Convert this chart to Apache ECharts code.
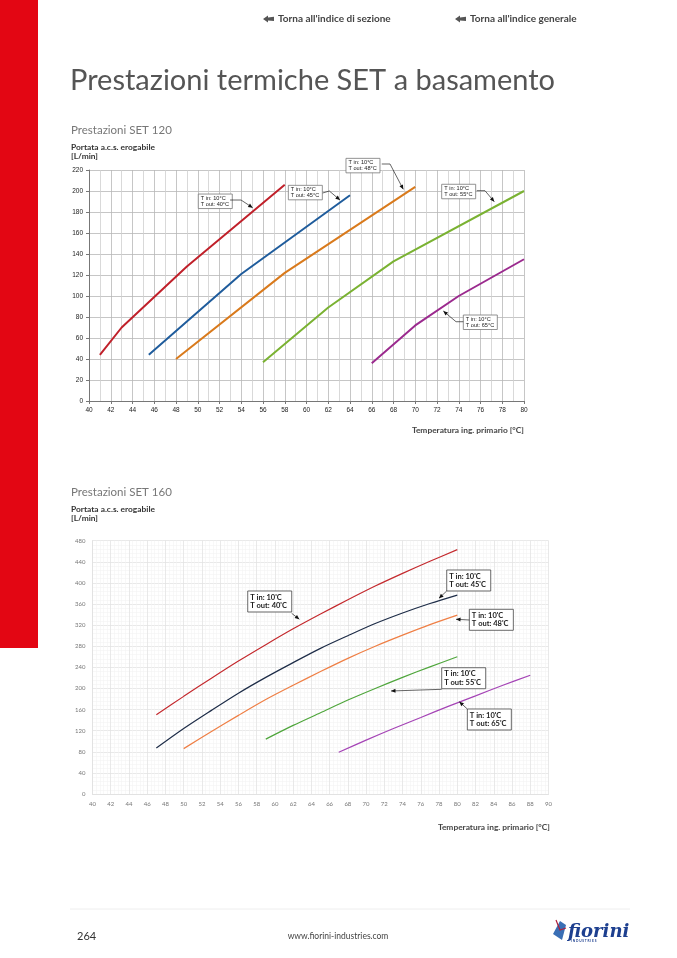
<!DOCTYPE html>
<html><head><meta charset="utf-8">
<script src="https://cdn.jsdelivr.net/npm/echarts@6/dist/echarts.min.js"></script>
<style>html,body{margin:0;padding:0;background:#fff}#c{width:677px;height:958px}</style>
</head><body><div id="c"></div>
<script>
// ---------- DATA ----------
// SET 120 : x = Temperatura ing. primario [°C], y = Portata [L/min]
const s120_40 = [[41,44],[43,70],[46,99],[49,128],[58,206]];
const s120_45 = [[45.5,44],[54,121],[64,196]];
const s120_48 = [[48,40],[58,122],[70,204]];
const s120_55 = [[56,37],[62,89],[68,133],[80,200]];
const s120_65 = [[66,36],[70,72],[74,100],[80,135]];
// SET 160
const s160_40 = [[47,150],[50,185],[53,219],[56,252],[59,283],[62,313],[65,341],[68,368],[71,394],[74,418],[77,441],[80,463]];
const s160_45 = [[47,87],[50,124],[53,158],[56,191],[59,221],[62,249],[65,276],[68,300],[71,323],[74,343],[77,361],[80,377]];
const s160_48 = [[50,86],[53,118],[56,149],[59,179],[62,206],[65,232],[68,257],[71,280],[74,301],[77,321],[80,339]];
const s160_55 = [[59,104],[62,130],[65,154],[68,178],[71,200],[74,221],[77,241],[80,260]];
const s160_65 = [[67,79],[70,102],[73,124],[76,145],[79,166],[82,186],[85,206],[88,225]];
const labelsTin = 'T in: 10°C';
const labelsOut120 = ['T out: 40°C','T out: 45°C','T out: 48°C','T out: 55°C','T out: 65°C'];
const labelsOut160 = ["T out: 40'C","T out: 45'C","T out: 48'C","T out: 55'C","T out: 65'C"];
// annotation anchors (data coords): box top-left, arrow path
const ann120 = [
  {box:[50.05,197.1], path:[[52.97,191.4],[53.98,191.4],[55.05,184.1]]},
  {box:[58.33,205.4], path:[[61.49,198.1],[62.1,200],[63.08,191.4]]},
  {box:[63.63,231.1], path:[[66.92,225.7],[67.68,225.7],[68.9,201.6]]},
  {box:[72.43,206.4], path:[[75.65,200.3],[76.41,200.3],[77.27,189.8]]},
  {box:[74.42,81.9],  path:[[74.42,75.5],[73.75,75.5],[72.58,85.7]]}
];
const ann160 = [
  {box:[57.02,384.7], path:[[61.84,342.4],[62.68,331.1]]},
  {box:[78.84,424.5], path:[[78.84,384.7],[77.99,370.9]]},
  {box:[81.32,350],   path:[[81.32,329.7],[79.86,331.1]]},
  {box:[78.29,239.3], path:[[78.29,198.4],[72.73,195.2]]},
  {box:[81.1,161.1],  path:[[81.1,161.1],[80.22,174.9]]}
];
const colors120 = ['#c0202a','#1f5c9c','#d97a1c','#7ab232','#9b2a8e'];
const colors160 = ['#c42a2e','#1e2d48','#ef7f45','#4fa63c','#a544b6'];

const chart = echarts.init(document.getElementById('c'), null, {renderer:'canvas'});
const F = 'Lato, "Open Sans", sans-serif';
const A = '"Liberation Sans", Arial, sans-serif';

function line(data, color, w, idx, smooth){
  return {type:'line', data, xAxisIndex:idx, yAxisIndex:idx, showSymbol:false, smooth:smooth,
    lineStyle:{color, width:w}, itemStyle:{color}, z:5, animation:false, silent:true};
}

chart.setOption({
  animation:false,
  grid:[
    {left:89, top:170, width:435, height:231},
    {left:92.5, top:540.7, width:456, height:253.3}
  ],
  xAxis:[
    {type:'value', gridIndex:0, min:40, max:80, interval:2,
     axisLine:{show:true, onZero:false, lineStyle:{color:'#777', width:1}},
     axisTick:{show:true, length:3, lineStyle:{color:'#777'}},
     axisLabel:{fontFamily:A, fontSize:6.5, color:'#222', margin:6},
     splitLine:{show:true, lineStyle:{color:'#b8b8b8', width:0.8}},
     minorTick:{show:false, splitNumber:2},
     minorSplitLine:{show:true, lineStyle:{color:'#cfcfcf', width:0.8}}},
    {type:'value', gridIndex:1, min:40, max:90, interval:2,
     axisLine:{show:true, onZero:false, lineStyle:{color:'#e2e2e2', width:1}},
     axisTick:{show:false},
     axisLabel:{fontFamily:F, fontSize:6, color:'#777', margin:7},
     splitLine:{show:true, lineStyle:{color:'#e3e3e3', width:0.8}},
     minorTick:{show:false, splitNumber:5},
     minorSplitLine:{show:true, lineStyle:{color:'#f3f3f3', width:0.6}}}
  ],
  yAxis:[
    {type:'value', gridIndex:0, min:0, max:220, interval:20,
     axisLine:{show:true, lineStyle:{color:'#777', width:1}},
     axisTick:{show:true, length:3, lineStyle:{color:'#777'}},
     axisLabel:{fontFamily:A, fontSize:6.5, color:'#222', margin:6},
     splitLine:{show:true, lineStyle:{color:'#b8b8b8', width:0.8}}},
    {type:'value', gridIndex:1, min:0, max:480, interval:40,
     axisLine:{show:true, lineStyle:{color:'#e2e2e2', width:1}},
     axisTick:{show:false},
     axisLabel:{fontFamily:F, fontSize:6, color:'#777', margin:7},
     splitLine:{show:true, lineStyle:{color:'#e3e3e3', width:0.8}},
     minorTick:{show:false, splitNumber:5},
     minorSplitLine:{show:true, lineStyle:{color:'#f3f3f3', width:0.6}}}
  ],
  series:[
    line(s120_40, colors120[0], 2, 0, false),
    line(s120_45, colors120[1], 2, 0, false),
    line(s120_48, colors120[2], 2, 0, false),
    line(s120_55, colors120[3], 2, 0, false),
    line(s120_65, colors120[4], 2, 0, false),
    line(s160_40, colors160[0], 1.2, 1, 0.3),
    line(s160_45, colors160[1], 1.2, 1, 0.3),
    line(s160_48, colors160[2], 1.2, 1, 0.3),
    line(s160_55, colors160[3], 1.2, 1, 0.3),
    line(s160_65, colors160[4], 1.2, 1, 0.3)
  ]
});

function txt(text, x, y, size, color, weight, align, family){
  return {type:'text', z:20, style:{text, x, y, fill:color, fontSize:size, fontWeight:weight||'normal',
    fontFamily:family||F, align:align||'left', verticalAlign:'middle'}};
}
const g = [];
// red side bar
g.push({type:'rect', shape:{x:0,y:0,width:38,height:648}, style:{fill:'#e30613'}, z:1});
// top links with arrow icons
function arrowIcon(x,y){
  return {type:'polygon', z:20, shape:{points:[[x,y],[x+5,y-3.5],[x+5,y-1.5],[x+11,y-2.2],[x+11,y+2],[x+5,y+1.5],[x+5,y+3.5]]}, style:{fill:'#555'}};
}
g.push(arrowIcon(263,19)); g.push(txt("Torna all'indice di sezione", 278, 19, 10, '#444', 'bold'));
g.push(arrowIcon(455,19)); g.push(txt("Torna all'indice generale", 470, 19, 10, '#444', 'bold'));
// title
g.push(txt('Prestazioni termiche SET a basamento', 70, 81, 29, '#555', 'normal'));
// chart 1 texts
g.push(txt('Prestazioni SET 120', 71, 130, 11.5, '#777', 'normal'));
g.push(txt('Portata a.c.s. erogabile', 71, 147, 8.4, '#333', 'bold'));
g.push(txt('[L/min]', 71, 156, 8.4, '#333', 'bold'));
g.push(txt('Temperatura ing. primario [°C]', 524, 430, 8.4, '#444', 'bold', 'right'));
// chart 2 texts
g.push(txt('Prestazioni SET 160', 71, 492, 11.5, '#777', 'normal'));
g.push(txt('Portata a.c.s. erogabile', 71, 509, 8.4, '#333', 'bold'));
g.push(txt('[L/min]', 71, 518, 8.4, '#333', 'bold'));
g.push(txt('Temperatura ing. primario [°C]', 550, 827, 8.4, '#444', 'bold', 'right'));
// footer
g.push({type:'line', z:2, shape:{x1:70,y1:909,x2:630,y2:909}, style:{stroke:'#eeeeee', lineWidth:1}});
g.push(txt('264', 77, 936, 11, '#333', 'normal'));
g.push(txt('www.fiorini-industries.com', 338, 936, 8.5, '#444', 'normal', 'center'));
g.push({type:'text', z:20, style:{text:'fiorini', x:568, y:932, fill:'#1d3f8f', fontSize:18, fontWeight:'bold', fontStyle:'italic', fontFamily:'"DejaVu Serif", serif', verticalAlign:'middle'}});
g.push(txt('I N D U S T R I E S', 571, 941, 3.2, '#1d3f8f', 'bold'));
g.push({type:'polygon', z:20, shape:{points:[[553,934],[560,921],[566,925],[562,940]]}, style:{fill:'#3a6fb5'}});
g.push({type:'polyline', z:21, shape:{points:[[556,920],[560,930],[566,928]]}, style:{stroke:'#b0203a', lineWidth:1.2, fill:null}});

// annotations
function arrowHead(p1, p2, len, half){
  const dx=p2[0]-p1[0], dy=p2[1]-p1[1], L=Math.sqrt(dx*dx+dy*dy)||1;
  const ux=dx/L, uy=dy/L;
  const bx=p2[0]-ux*len, by=p2[1]-uy*len;
  return [[p2[0],p2[1]],[bx-uy*half, by+ux*half],[bx+uy*half, by-ux*half]];
}
function labelsTinFor(gi){ return gi===0 ? labelsTin : "T in: 10'C"; }
function addAnn(gi, list, outs, opt){
  list.forEach((a,i)=>{
    const b = chart.convertToPixel({gridIndex:gi}, a.box);
    g.push({type:'rect', z:30, shape:{x:b[0], y:b[1], width:opt.w, height:opt.h},
      style:{fill:'#fff', stroke:opt.stroke, lineWidth:opt.lw}});
    g.push({type:'text', z:31, style:{text:labelsTinFor(gi), x:b[0]+opt.pad, y:b[1]+opt.l1, fontSize:opt.fs, fontFamily:opt.ff, fontWeight:opt.fw, fill:'#222', verticalAlign:'middle'}});
    g.push({type:'text', z:31, style:{text:outs[i], x:b[0]+opt.pad, y:b[1]+opt.l2, fontSize:opt.fs, fontFamily:opt.ff, fontWeight:opt.fw, fill:'#222', verticalAlign:'middle'}});
    const pts = a.path.map(p=>chart.convertToPixel({gridIndex:gi}, p));
    g.push({type:'polyline', z:30, shape:{points:pts}, style:{stroke:'#222', lineWidth:0.7, fill:null}});
    g.push({type:'polygon', z:30, shape:{points:arrowHead(pts[pts.length-2], pts[pts.length-1], 4.5, 2)}, style:{fill:'#111'}});
  });
}
addAnn(0, ann120, labelsOut120, {w:34, h:14.5, pad:2.5, l1:4.3, l2:10.5, fs:5.6, ff:A, fw:'normal', stroke:'#777', lw:0.8});
addAnn(1, ann160, labelsOut160, {w:44, h:21, pad:2.5, l1:6.3, l2:14.5, fs:7.5, ff:F, fw:'bold', stroke:'#444', lw:0.8});

chart.setOption({graphic:g});
</script></body></html>
